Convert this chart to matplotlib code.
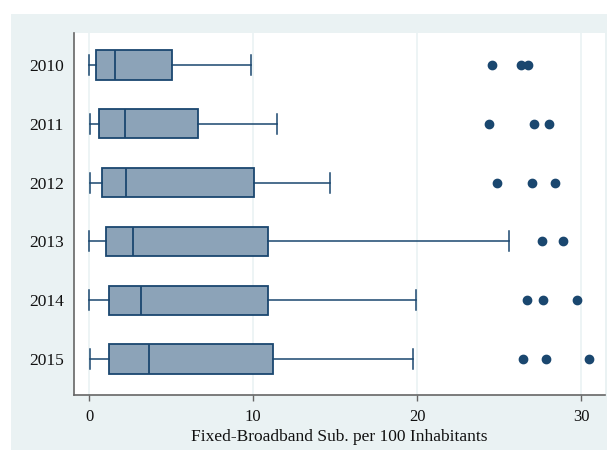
import matplotlib
matplotlib.use("Agg")
import matplotlib.pyplot as plt
from matplotlib.patches import Rectangle

# Fixed-broadband subscriptions per 100 inhabitants, box summaries by year
years = ["2010", "2011", "2012", "2013", "2014", "2015"]
whis_lo = [0.00, 0.04, 0.02, 0.00, 0.00, 0.06]
q1 = [0.41, 0.57, 0.79, 1.02, 1.22, 1.20]
med = [1.55, 2.20, 2.24, 2.67, 3.17, 3.62]
q3 = [5.06, 6.61, 10.05, 10.88, 10.90, 11.23]
whis_hi = [9.85, 11.43, 14.70, 25.61, 19.93, 19.77]
outliers = [
    [24.57, 26.32, 26.75],
    [24.40, 27.13, 28.03],
    [24.88, 27.01, 28.40],
    [27.60, 28.88],
    [26.70, 27.66, 29.76],
    [26.44, 27.85, 30.47],
]
xticks = [0, 10, 20, 30]

navy = "#1a476f"
fill = "#8ca3b8"
bg = "#eaf2f3"

plt.rcParams["font.family"] = "Liberation Serif"

fig = plt.figure(figsize=(6.07, 4.5), dpi=100)
fig.patch.set_facecolor("white")
# graph region background
fig.patches.append(Rectangle((10.5 / 607, 0), 1, (450 - 14) / 450,
                             transform=fig.transFigure, facecolor=bg,
                             edgecolor="none", zorder=-1))

ax = fig.add_axes([73.7 / 607, 55 / 450, (605 - 73.7) / 607, (395 - 32.5) / 450])
ax.set_facecolor("white")
ax.set_zorder(1)

stats = []
for i in range(len(years)):
    stats.append(dict(label=years[i], whislo=whis_lo[i], q1=q1[i], med=med[i],
                      q3=q3[i], whishi=whis_hi[i], fliers=outliers[i]))

pos = list(range(1, len(years) + 1))
ax.bxp(stats, positions=pos, vert=False, widths=0.5, capwidths=0.34,
       patch_artist=True, showfliers=True,
       boxprops=dict(facecolor=fill, edgecolor=navy, linewidth=1.3),
       medianprops=dict(color=navy, linewidth=1.3),
       whiskerprops=dict(color=navy, linewidth=1.1),
       capprops=dict(color=navy, linewidth=1.1),
       flierprops=dict(marker="o", markerfacecolor=navy, markeredgecolor=navy,
                       markersize=6, linestyle="none"))

ax.set_xlim(-0.95, 31.46)
ax.set_ylim(6.61, 0.45)
ax.set_xticks(xticks)
ax.set_xticklabels([str(t) for t in xticks])
ax.set_yticks(pos)
ax.set_yticklabels(years)

for t in xticks:
    ax.axvline(t, color=bg, linewidth=1.2, zorder=0)

for side in ["top", "right"]:
    ax.spines[side].set_visible(False)
for side in ["left", "bottom"]:
    ax.spines[side].set_color("#666666")
    ax.spines[side].set_linewidth(1.2)

ax.tick_params(axis="y", length=0, pad=7, labelsize=12.5, colors="#111111")
ax.tick_params(axis="x", length=4, width=1, color="#666666", pad=6,
               labelsize=12, labelcolor="#111111")
ax.set_xlabel("Fixed-Broadband Sub. per 100 Inhabitants", fontsize=12.5,
              color="#111111", labelpad=3)

fig.savefig("out.png", dpi=100, facecolor=fig.get_facecolor())
